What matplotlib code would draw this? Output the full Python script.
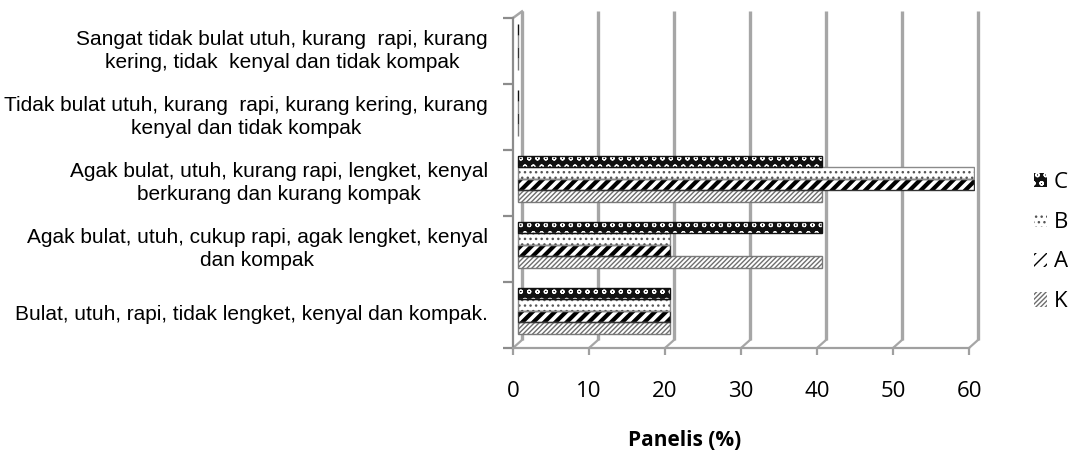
import matplotlib
matplotlib.use("Agg")
import matplotlib.pyplot as plt
from matplotlib.patches import Patch

categories = [
    "Bulat, utuh, rapi, tidak lengket, kenyal dan kompak.",
    "Agak bulat, utuh, cukup rapi, agak lengket, kenyal\ndan kompak",
    "Agak bulat, utuh, kurang rapi, lengket, kenyal\nberkurang dan kurang kompak",
    "Tidak bulat utuh, kurang  rapi, kurang kering, kurang\nkenyal dan tidak kompak",
    "Sangat tidak bulat utuh, kurang  rapi, kurang\nkering, tidak  kenyal dan tidak kompak",
]
series_names = ["K", "A", "B", "C"]
values_K = [20, 40, 40, 0, 0]
values_A = [20, 20, 60, 0, 0]
values_B = [20, 20, 60, 0, 0]
values_C = [20, 40, 40, 0, 0]
x_ticks = [0, 10, 20, 30, 40, 50, 60]

series_values = [values_K, values_A, values_B, values_C]

# hatch styling per series: face, hatch, hatch colour, hatch width, outline
styles = {
    "K": dict(face="white", hatch="///////", hcolor="#6e6e6e", hlw=1.0, edge="#7a7a7a"),
    "A": dict(face="white", hatch="///", hcolor="black", hlw=3.0, edge="#333333"),
    "B": dict(face="white", hatch="...", hcolor="#555555", hlw=1.0, edge="#8a8a8a"),
    "C": dict(face="#111111", hatch="oo", hcolor="white", hlw=0.8, edge="#111111"),
}

W, H, DPI = 1082, 455, 100
fig = plt.figure(figsize=(W / DPI, H / DPI), dpi=DPI)
fig.patch.set_facecolor("white")

ax_left, ax_right = 513, 975
ax_top, ax_bottom = 18, 348
ax = fig.add_axes([ax_left / W, 1 - ax_bottom / H,
                   (ax_right - ax_left) / W, (ax_bottom - ax_top) / H])
px_per_unit = 7.6
xmax = (ax_right - ax_left) / px_per_unit
ax.set_xlim(0, xmax)
ax.set_ylim(0, len(categories))
ax.set_facecolor("white")

# depth offset of the back wall (in data units)
dx = 9 / px_per_unit
dy = 8 / 66.0

grid_col = "#a6a6a6"
for v in x_ticks:
    ax.plot([v + dx, v + dx], [dy, len(categories) + 0.1], color=grid_col,
            lw=2.4, clip_on=False, zorder=1, solid_capstyle="butt")
    ax.plot([v, v + dx], [0, dy], color=grid_col, lw=1.6, clip_on=False, zorder=1)
# top-left corner of the side wall
ax.plot([0, dx], [len(categories), len(categories) + 0.1], color=grid_col,
        lw=1.8, clip_on=False, zorder=1)

bar_h = 0.175
offsets = [0.30, 0.475, 0.65, 0.825]
bar_left = 0.6
ys_base = list(range(len(categories)))
for name, vals, off in zip(series_names, series_values, offsets):
    st = styles[name]
    ys = [y + off for y in ys_base]
    bars = ax.barh(ys, vals, height=bar_h, left=bar_left, color=st["face"],
                   edgecolor=st["hcolor"], hatch=st["hatch"], linewidth=0, zorder=3)
    for b in bars:
        if hasattr(b, "set_hatch_linewidth"):
            b.set_hatch_linewidth(st["hlw"])
    ax.barh(ys, vals, height=bar_h, left=bar_left, fill=False,
            edgecolor=st["edge"], linewidth=1.0, zorder=4)

for sp in ["top", "right"]:
    ax.spines[sp].set_visible(False)
ax.spines["left"].set_color("#8c8c8c")
ax.spines["left"].set_linewidth(1.6)
ax.spines["bottom"].set_color("#a0a0a0")
ax.spines["bottom"].set_linewidth(1.6)
ax.spines["bottom"].set_bounds(0, 60)

ax.set_yticks(range(len(categories) + 1))
ax.set_yticklabels([])
ax.tick_params(axis="y", direction="out", length=7, width=1.6, color="#8c8c8c")
ax.set_xticks(x_ticks)
ax.set_xticklabels([str(v) for v in x_ticks], fontfamily="Open Sans", fontsize=16)
ax.tick_params(axis="x", direction="out", length=5, width=1.6, color="#a0a0a0", pad=19)

for i, lab in enumerate(categories):
    ax.text(-25 / px_per_unit, i + 0.5, lab, ha="right", va="center",
            multialignment="center", fontfamily="Liberation Sans", fontsize=15,
            linespacing=1.22)

fig.text(685 / W, 1 - 440 / H, "Panelis (%)", ha="center", va="center",
         fontfamily="Open Sans", fontweight="bold", fontsize=15)

handles = []
for name in reversed(series_names):
    st = styles[name]
    p = Patch(facecolor=st["face"], edgecolor=st["hcolor"], hatch=st["hatch"],
              linewidth=0, label=name)
    handles.append(p)
leg = fig.legend(handles=handles, loc="center left",
                 bbox_to_anchor=(1034 / W, 1 - 242 / H), frameon=False,
                 borderpad=0, borderaxespad=0,
                 handlelength=0.6, handleheight=0.6, handletextpad=0.3,
                 labelspacing=0.85,
                 prop={"family": "Open Sans", "size": 16})

fig.savefig("out.png", dpi=DPI, facecolor="white")
